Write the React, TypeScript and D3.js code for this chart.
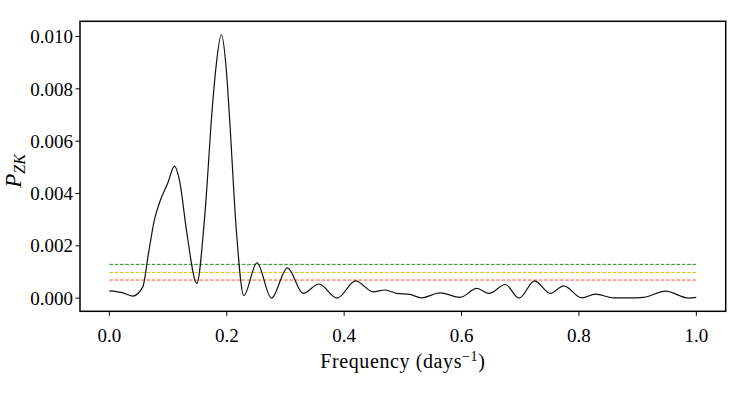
import React from "react";
import * as d3 from "d3";

const freq = [0, 0.02, 0.04, 0.057, 0.0666, 0.0768, 0.0871, 0.0996, 0.111, 0.1195, 0.132, 0.149, 0.162, 0.176, 0.182, 0.1907, 0.199, 0.205, 0.216, 0.229, 0.2515, 0.276, 0.3034, 0.33, 0.357, 0.388, 0.4195, 0.4496, 0.4695, 0.4895, 0.512, 0.532, 0.5634, 0.5976, 0.626, 0.647, 0.6744, 0.698, 0.7245, 0.751, 0.774, 0.805, 0.828, 0.859, 0.885, 0.91, 0.9476, 0.987, 1.0];
const power = [0.00028, 0.00022, 0.00008, 0.00043, 0.0017, 0.003, 0.00375, 0.0044, 0.00505, 0.0045, 0.0025, 0.00056, 0.003, 0.00745, 0.0089, 0.01007, 0.0088, 0.0068, 0.0027, 0.0001, 0.00135, 0.0, 0.00116, 0.00018, 0.00054, 0.0, 0.00066, 0.00024, 0.00031, 0.00018, 0.00014, 0.00001, 0.0002, 0.00003, 0.00037, 0.00018, 0.00052, 0.0, 0.00066, 0.00018, 0.00047, 0.00001, 0.00015, 0.00001, 0.00001, 0.00003, 0.00027, 0.0, 0.00003];

const thresholds = [0.00129, 0.00098, 0.00069];
const thresholdColors = ["#1f9a1f", "#cccc1a", "#ff5050"];
const xTicks = [0, 0.2, 0.4, 0.6, 0.8, 1.0];
const yTicks = [0, 0.002, 0.004, 0.006, 0.008, 0.01];

const W = 747, H = 395;
const L = 80, R = 725.7, T = 21.3, B = 311.3;
const FONT = "'Liberation Serif', 'DejaVu Serif', serif";

export default function App() {
  const x = d3.scaleLinear().domain([-0.05, 1.05]).range([L, R]);
  const y = d3.scaleLinear().domain([-0.000504, 0.010584]).range([B, T]);
  const pts: [number, number][] = freq.map((f, i) => [f, power[i]]);
  const line = d3.line<[number, number]>().x(d => x(d[0])).y(d => y(d[1])).curve(d3.curveMonotoneX);
  const fx = d3.format(".1f");
  const fy = d3.format(".3f");
  return (
    <svg width={W} height={H} style={{ position: "absolute", left: 0, top: 0, background: "#fff" }} fontFamily={FONT}>
      {thresholds.map((t, i) => (
        <line key={i} x1={x(0)} x2={x(1)} y1={y(t)} y2={y(t)} stroke={thresholdColors[i]} strokeWidth={1} strokeDasharray="3.7,1.6" />
      ))}
      <path d={line(pts) || ""} fill="none" stroke="#111" strokeWidth={1.2} />
      <rect x={L} y={T} width={R - L} height={B - T} fill="none" stroke="#000" strokeWidth={1.5} />
      {xTicks.map(t => (
        <g key={t}>
          <line x1={x(t)} x2={x(t)} y1={B} y2={B + 4.5} stroke="#000" strokeWidth={1} />
          <text x={x(t)} y={B + 31} textAnchor="middle" fontSize={19}>{fx(t)}</text>
        </g>
      ))}
      {yTicks.map(t => (
        <g key={t}>
          <line x1={L - 4.5} x2={L} y1={y(t)} y2={y(t)} stroke="#000" strokeWidth={1} />
          <text x={L - 7} y={y(t)} dy="0.35em" textAnchor="end" fontSize={19}>{fy(t)}</text>
        </g>
      ))}
      <text x={(L + R) / 2} y={368} textAnchor="middle" fontSize={20} letterSpacing={0.6}>
        Frequency (days<tspan dy={-7} fontSize={14}>−1</tspan><tspan dy={7}>)</tspan>
      </text>
      <text transform={`translate(21,171) rotate(-90)`} textAnchor="middle" fontSize={23}>
        <tspan fontStyle="italic">P</tspan><tspan dy={4} fontSize={16} fontStyle="italic">ZK</tspan>
      </text>
    </svg>
  );
}
